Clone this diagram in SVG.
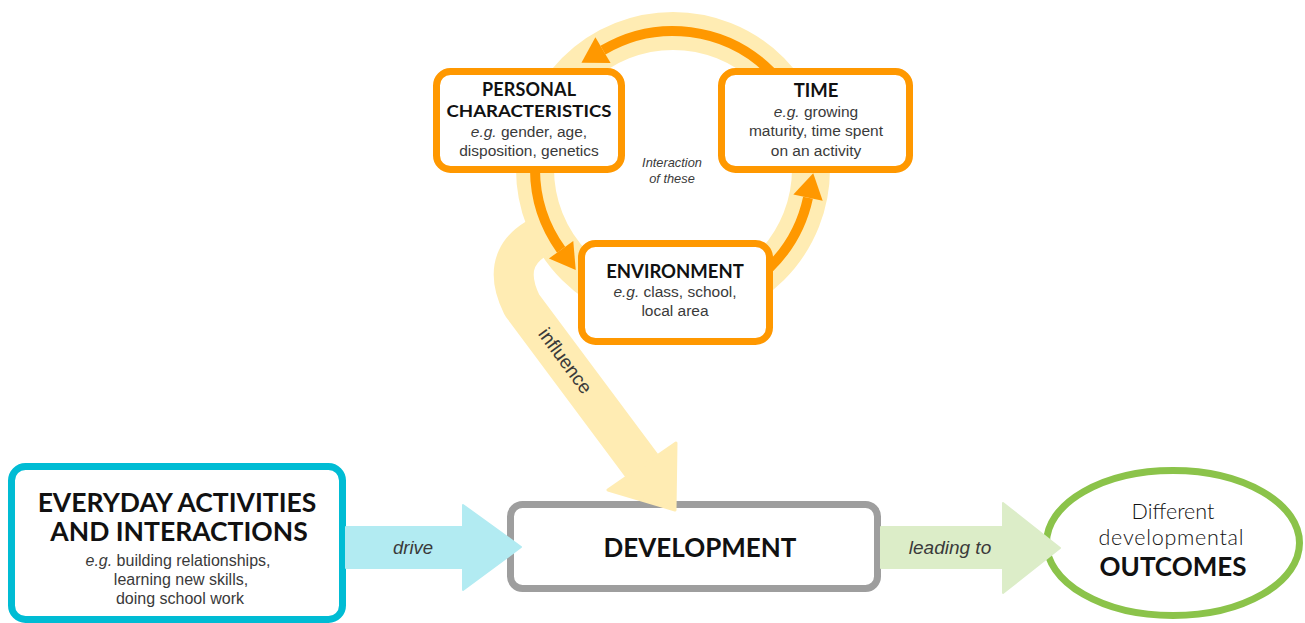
<svg xmlns="http://www.w3.org/2000/svg" width="1305" height="623" viewBox="0 0 1305 623">
<style>
.h{font-family:Lato,"Liberation Sans",sans-serif;font-weight:700;fill:#111;text-anchor:middle}
.b{font-family:"Liberation Sans",Arial,sans-serif;fill:#3a3a3a;text-anchor:middle}
.i{font-style:italic}
.lt{font-family:Lato,"Liberation Sans",sans-serif;font-weight:300;fill:#111;text-anchor:middle}
.ob{fill:#fff;stroke:#FF9800;stroke-width:7}
.arc{fill:none;stroke:#FF9800;stroke-width:10}
</style>
<defs>
<marker id="oh" markerUnits="userSpaceOnUse" viewBox="0 -16 26 32" refX="0" refY="0" markerWidth="26" markerHeight="32" orient="auto" overflow="visible">
<path d="M0,-15 L25,0 L0,15 z" fill="#FF9800"/>
</marker>
</defs>
<rect width="1305" height="623" fill="#fff"/>
<g id="ring">
<circle cx="673" cy="169" r="138" fill="none" stroke="#FFECB3" stroke-width="38"/>
</g>
<g id="personal">
<rect class="ob" x="436.5" y="71.5" width="185" height="98" rx="14"/>
<text class="h" x="529" y="96" font-size="18" textLength="94">PERSONAL</text>
<text class="h" x="529" y="117" font-size="17.5" textLength="165" lengthAdjust="spacingAndGlyphs">CHARACTERISTICS</text>
<text class="b" x="529" y="137" font-size="15.5"><tspan class="i">e.g.</tspan> gender, age,</text>
<text class="b" x="529" y="156" font-size="15.5">disposition, genetics</text>
</g>
<g id="time">
<rect class="ob" x="721.5" y="71.5" width="188" height="98" rx="14"/>
<text class="h" x="816" y="97" font-size="18.5">TIME</text>
<text class="b" x="816" y="117" font-size="15.5"><tspan class="i">e.g.</tspan> growing</text>
<text class="b" x="816" y="136" font-size="15.5">maturity, time spent</text>
<text class="b" x="816" y="156" font-size="15.5">on an activity</text>
</g>
<g id="environment">
<rect class="ob" x="581.5" y="243.5" width="188" height="98" rx="14"/>
<text class="h" x="675" y="278" font-size="18.5">ENVIRONMENT</text>
<text class="b" x="675" y="297" font-size="15.5"><tspan class="i">e.g.</tspan> class, school,</text>
<text class="b" x="675" y="316" font-size="15.5">local area</text>
</g>
<g id="interaction">
<text class="b i" x="672" y="167" font-size="12.8">Interaction</text>
<text class="b i" x="672" y="183" font-size="12.8">of these</text>
</g>
<g id="everyday">
<rect x="11.5" y="466.5" width="331" height="153" rx="14" fill="#fff" stroke="#00BCD4" stroke-width="7"/>
<text class="h" x="177" y="512" font-size="26.5">EVERYDAY ACTIVITIES</text>
<text class="h" x="179" y="541" font-size="26.5">AND INTERACTIONS</text>
<text class="b" x="178" y="566" font-size="16"><tspan class="i">e.g.</tspan> building relationships,</text>
<text class="b" x="181" y="585" font-size="16">learning new skills,</text>
<text class="b" x="180" y="604" font-size="16">doing school work</text>
</g>
<g id="development">
<rect x="510.5" y="504.5" width="367" height="84" rx="12" fill="#fff" stroke="#9E9E9E" stroke-width="7"/>
<text class="h" x="700" y="557" font-size="26">DEVELOPMENT</text>
</g>
<g id="outcomes">
<ellipse cx="1173" cy="543" rx="126.5" ry="72.5" fill="#fff" stroke="#8BC34A" stroke-width="7"/>
<text class="lt" x="1173" y="519" font-size="21.5">Different</text>
<text class="lt" x="1171" y="545" font-size="21.5" textLength="145">developmental</text>
<text class="h" x="1173" y="576" font-size="26">OUTCOMES</text>
</g>
<g id="connectors">
<path d="M556,230 Q495,250 522,305 L642,466" fill="none" stroke="#FFECB3" stroke-width="40" stroke-linejoin="round"/>
<polygon points="676,443 608,490 675,510" fill="#FFECB3" stroke="#FFECB3" stroke-width="3" stroke-linejoin="round"/>
<text class="b" font-size="19" transform="translate(565,361) rotate(53.5)" y="6">influence</text>
<path class="arc" d="M770.7,71.5 A138,138 0 0 0 603,50.1" marker-end="url(#oh)"/>
<path class="arc" d="M535,169.5 A138,138 0 0 0 561.1,249.7" marker-end="url(#oh)"/>
<path class="arc" d="M769.5,267.6 A138,138 0 0 0 808,197.7" marker-end="url(#oh)"/>
<path d="M346,527 L463,527 L463,505 L521,547 L463,590 L463,568 L346,568 z" fill="#B2EBF2" stroke="#B2EBF2" stroke-width="2" stroke-linejoin="round"/>
<text class="b i" x="413" y="554" font-size="18.5">drive</text>
<path d="M881,527 L1003,527 L1003,503 L1060,548 L1003,593 L1003,568 L881,568 z" fill="#DCEDC8" stroke="#DCEDC8" stroke-width="2" stroke-linejoin="round"/>
<text class="b i" x="950" y="554" font-size="19">leading to</text>
</g>
</svg>
